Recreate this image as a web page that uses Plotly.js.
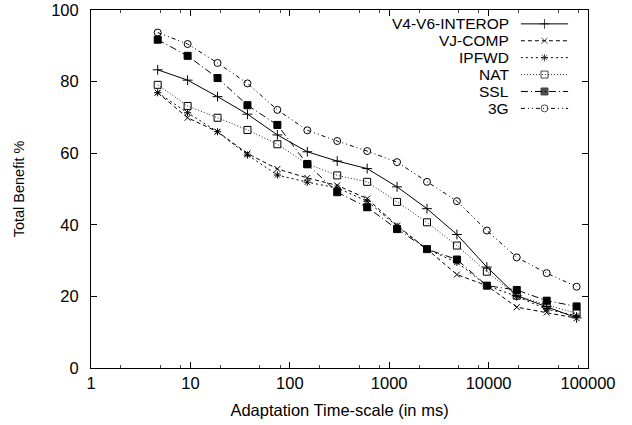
<!DOCTYPE html>
<html>
<head>
<meta charset="utf-8">
<script src="https://cdn.plot.ly/plotly-3.0.1.min.js"></script>
<style>
html,body{margin:0;padding:0;background:#fff;}
#chart{width:632px;height:425px;}
</style>
</head>
<body>
<div id="chart"></div>
<script>
// Data
const timescale = [4.6875, 9.375, 18.75, 37.5, 75, 150, 300, 600, 1200, 2400, 4800, 9600, 19200, 38400, 76800];
const v4v6Interop = [83.3, 80.4, 75.8, 70.9, 65.1, 60.4, 57.8, 55.7, 50.6, 44.5, 37.3, 28.2, 20.2, 17.2, 14.0];
const vjComp      = [76.9, 69.9, 66.0, 59.9, 55.6, 53.1, 51.0, 47.3, 39.8, 33.2, 26.1, 23.0, 17.0, 15.5, 13.9];
const ipfwd       = [76.9, 71.3, 66.0, 59.5, 53.9, 51.9, 50.3, 46.6, 39.6, 33.2, 29.5, 23.0, 20.0, 16.4, 14.6];
const nat         = [79.1, 73.2, 69.9, 66.5, 62.5, 57.0, 53.8, 52.0, 46.4, 40.7, 34.2, 26.9, 20.2, 17.6, 15.3];
const ssl         = [91.7, 87.2, 81.0, 73.4, 67.9, 56.9, 49.1, 44.9, 38.8, 33.2, 30.3, 23.0, 21.8, 18.8, 17.2];
const g3          = [93.7, 90.5, 85.2, 79.5, 72.1, 66.4, 63.4, 60.6, 57.5, 52.0, 46.6, 38.4, 30.9, 26.5, 22.7];

const seriesNames = ["V4-V6-INTEROP", "VJ-COMP", "IPFWD", "NAT", "SSL", "3G"];
const seriesValues = [v4v6Interop, vjComp, ipfwd, nat, ssl, g3];
const xTickVals = [1, 10, 100, 1000, 10000, 100000];
const xTickText = ["1", "10", "100", "1000", "10000", "100000"];
const xMinorVals = [2, 5, 8, 20, 50, 80, 200, 500, 800, 2000, 5000, 8000, 20000, 50000, 80000];
const yTickVals = [0, 20, 40, 60, 80, 100];

const styles = [
  {dash: "solid", color: "#000", symbol: "cross-thin-open", size: 7},
  {dash: "4px,3px", color: "#000", symbol: "x-thin-open", size: 6},
  {dash: "2px,3px", color: "#000", symbol: "asterisk-open", size: 6},
  {dash: "1px,2px", color: "#222", symbol: "square-open", size: 7},
  {dash: "7px,3px,1px,3px", color: "#000", symbol: "square", size: 7},
  {dash: "4px,3px,1px,3px,1px,3px", color: "#000", symbol: "circle-open", size: 7}
];

const traces = [];
seriesValues.forEach((vals, i) => {
  const s = styles[i];
  traces.push({
    x: timescale, y: vals, type: "scatter", mode: "lines+markers", name: seriesNames[i],
    line: {color: s.color, width: 1, dash: s.dash},
    marker: {symbol: s.symbol, size: s.size, color: "#000", line: {color: "#000", width: 1}},
    showlegend: false, cliponaxis: false
  });
});

// custom legend keys (text on the left, sample on the right, like gnuplot)
const annotations = [];
const legendFont = {family: "Liberation Sans, Arial, sans-serif", size: 15.5, color: "#000"};
seriesNames.forEach((name, i) => {
  const s = styles[i];
  const row = seriesNames.length - 1 - i;
  traces.push({
    x: [0, 0.5, 1], y: [row, row, row], xaxis: "x2", yaxis: "y2", type: "scatter",
    mode: "lines+markers", showlegend: false, hoverinfo: "skip",
    line: {color: s.color, width: 1, dash: s.dash},
    marker: {symbol: s.symbol, size: [0, s.size, 0], color: "#000", line: {color: "#000", width: 1}}
  });
  annotations.push({
    text: name, xref: "paper", yref: "y2", x: 0.845, y: row, xanchor: "right", yanchor: "middle",
    showarrow: false, font: legendFont
  });
});

const font = {family: "Liberation Sans, Arial, sans-serif", size: 15, color: "#000"};
const xTitleFont = {family: "Liberation Sans, Arial, sans-serif", size: 16.5, color: "#000"};
const yTitleFont = {family: "Liberation Sans, Arial, sans-serif", size: 14.5, color: "#000"};
const tickFont = {family: "Liberation Sans, Arial, sans-serif", size: 16.5, color: "#000"};

const layout = {
  width: 632, height: 425,
  margin: {l: 91, r: 44, t: 10, b: 57},
  paper_bgcolor: "#fff", plot_bgcolor: "#fff",
  font: font,
  showlegend: false,
  xaxis: {
    type: "log", range: [0, 5],
    tickvals: xTickVals, ticktext: xTickText,
    ticks: "inside", ticklen: 6, tickwidth: 1, tickcolor: "#000",
    minor: {tickvals: xMinorVals, ticks: "inside", ticklen: 3, tickwidth: 1, tickcolor: "#444"},
    mirror: "ticks", showline: true, linecolor: "#000", linewidth: 1,
    showgrid: false, zeroline: false,
    tickfont: tickFont,
    title: {text: "Adaptation Time-scale (in ms)", font: xTitleFont, standoff: 13}
  },
  yaxis: {
    range: [0, 100], tickvals: yTickVals,
    ticks: "inside", ticklen: 6, tickwidth: 1, tickcolor: "#000",
    mirror: "ticks", showline: true, linecolor: "#000", linewidth: 1,
    showgrid: false, zeroline: false,
    tickfont: tickFont, ticklabelstandoff: 8,
    title: {text: "Total Benefit %", font: yTitleFont, standoff: 23}
  },
  xaxis2: {range: [-9.105, 1.421], overlaying: "x", anchor: "y2", visible: false, fixedrange: true},
  yaxis2: {range: [-15.36, 5.82], overlaying: "y", anchor: "x2", visible: false, fixedrange: true},
  annotations: annotations
};

Plotly.newPlot("chart", traces, layout, {staticPlot: true, displayModeBar: false});
</script>
</body>
</html>
